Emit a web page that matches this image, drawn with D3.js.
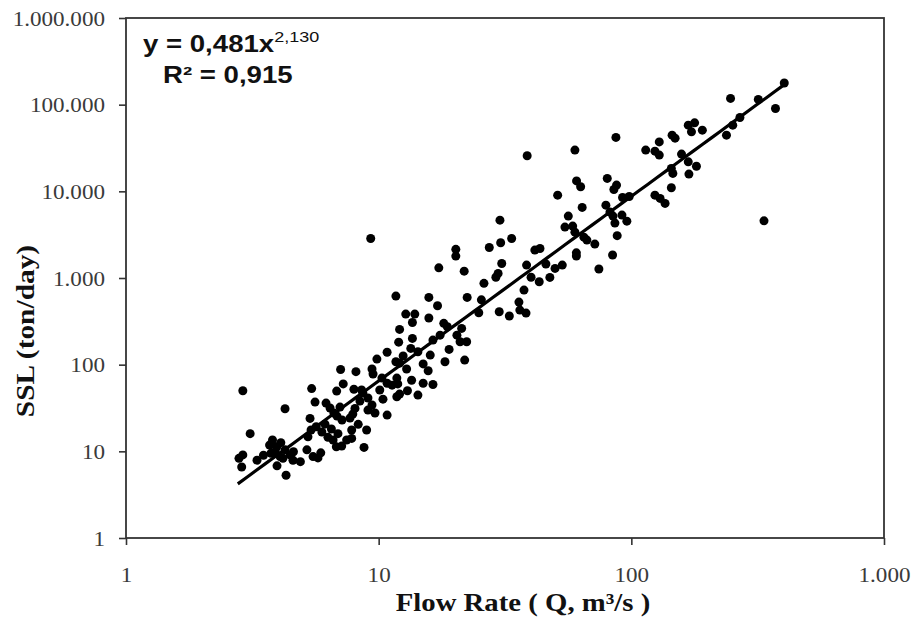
<!DOCTYPE html>
<html>
<head>
<meta charset="utf-8">
<script src="https://cdn.jsdelivr.net/npm/d3@7"></script>
<style>
  html, body { margin: 0; padding: 0; background: #fff; }
  svg { display: block; }
  .tick text { font-family: "Liberation Serif", "Times New Roman", serif; font-size: 21px; fill: #3a3a3a; }
  .tick line { stroke: #333; stroke-width: 1.6px; }
  .domain { display: none; }
</style>
</head>
<body>
<svg id="chart" width="911" height="621"></svg>
<script>
// ---- data
const xTicks = [1, 10, 100, 1000];
const xTickLabels = ['1', '10', '100', '1.000'];
const yTicks = [1, 10, 100, 1000, 10000, 100000, 1000000];
const yTickLabels = ['1', '10', '100', '1.000', '10.000', '100.000', '1.000.000'];

// power fit y = a * x^b
const fitA = 0.481;
const fitB = 2.130;
const fitRange = [2.77, 403];

// [Q (m3/s), SSL (ton/day)]
const samples = [
  [2.9,50],[3.1,16],[2.9,9.1],[2.8,8.3],[2.87,6.6],[3.3,7.9],[3.7,11.8],[3.8,13.5],[3.75,9.5],
  [3.95,11.3],[3.9,9.9],[4.07,8.7],[3.96,6.8],[4.26,31],[4.26,10.4],[4.46,9.1],[4.6,9.9],[4.18,8.3],
  [4.58,7.9],[4.9,7.6],[4.3,5.3],[5.2,10.4],[5.5,8.7],[5.75,8.4],[5.25,14.7],[5.4,17.6],[5.66,19.2],
  [5.35,24],[5.6,37],[5.43,53],[6.13,20.6],[6.5,18.1],[5.96,16.7],[6.6,13.5],[6.8,11.3],[7.14,11.5],
  [7.47,13.5],[7.82,14.1],[7.82,17.6],[6.84,25.5],[7.16,23],[7.7,24.2],[7.9,26.9],[7.03,32.4],[6.19,36],
  [6.42,31.6],[6.65,27.7],[6.82,49.6],[7.24,60],[7.07,88],[8.13,83],[7.98,52],[8.56,51],[8.66,47],
  [8.43,38],[9.07,41.2],[9.41,34.2],[9.07,29.9],[8.06,31.3],[9.67,27.7],[10.8,26.2],[10.4,40],[10.1,51],
  [9.41,89],[9.5,78],[9.84,116],[10.8,139],[11.7,108],[10.8,61],[11.3,58],[11.8,70],[11.9,60],
  [11.8,42.6],[12.1,45.8],[12,182],[12.1,255],[8.96,17.6],[8.75,11.1],
  [9.3,2860],[12.1,104],[12.5,126],[12.9,89],[13.4,154],[14.3,141],[16.4,192],[17.5,219],[16,129],
  [15,102],[15.7,85],[13.5,66],[15,61],[16.4,59],[14.3,44.6],[18.3,108],[21.9,113],[11.7,618],
  [13.6,201],[12.8,383],[13.9,383],[13.6,307],[15.8,345],[15.8,597],[17.1,478],[17.3,1310],[20.2,2140],
  [20.2,1790],[21.8,1200],[22.4,597],[18.1,300],[18.7,274],[21.3,262],[20.4,219],[21,184],[22.3,184],
  [24.9,397],[30,408],[32.9,364],[26.1,867],[29.1,1020],[29.7,1130],[30.7,1470],[30.4,2550],[33.6,2860],
  [27.4,2250],[30.2,4650],[35.9,527],[36.2,426],[38.3,394],[37.6,725],[38.5,1410],[40.1,1020],[43.2,904],
  [41.5,2100],[43.5,2190],[45.9,1450],[47.6,1016],[49.9,1290],[53.3,1410],[51.1,9040],[38.7,25700],
  [59.8,29900],[60.7,13200],[63,11300],[63.9,6520],[56.3,5180],[54.6,3870],[58.6,3970],[59.8,3380],
  [64.9,2960],[66.7,2740],[71.7,2460],[60.6,1950],[60.6,1790],[74.4,1270],[84.3,1840],[87.9,3080],
  [79.3,6930],[82.3,5760],[84.6,5180],[86.1,4300],[91.8,5320],[96,4530],[92.3,8500],[98.1,8730],
  [80.3,14100],[87.4,11800],[85.3,10500],[86.9,41900],[114,29900],[124,29100],[129,26200],[129,37200],
  [145,44500],[149,41100],[158,26900],[144,18400],[146,16100],[144,11000],[124,9040],[130,8280],
  [136,7250],[168,21900],[181,19500],[169,15800],[168,58000],[178,61700],[173,48600],[191,50800],
  [238,44500],[252,58000],[269,71200],[247,118000],[318,115000],[372,90400],[403,178000],[335,4570],
  [6.3,14.5],[6.9,16],[4.1,12.6],[3.5,9],[5.9,9.6],[8.3,20.5],[10.3,70],[13,50],[19,150],[25.5,560]
];

// ---- layout
const plot = { left: 126, right: 884, top: 18, bottom: 538 };
const svg = d3.select('#chart');

const x = d3.scaleLog().domain([1, 1000]).range([plot.left, plot.right]);
const y = d3.scaleLog().domain([1, 1e6]).range([plot.bottom, plot.top]);

// frame
svg.append('rect')
  .attr('x', plot.left).attr('y', plot.top)
  .attr('width', plot.right - plot.left).attr('height', plot.bottom - plot.top)
  .attr('fill', 'none').attr('stroke', '#333').attr('stroke-width', 1.8);

// axes
const gx = svg.append('g')
  .attr('transform', `translate(0,${plot.bottom})`)
  .call(d3.axisBottom(x).tickValues(xTicks)
    .tickFormat((d, i) => xTickLabels[i]).tickSize(7).tickSizeOuter(0));
gx.selectAll('.tick text').attr('y', 0).attr('dy', null)
  .attr('transform', 'translate(0,44) scale(1.1,1)');

const gy = svg.append('g')
  .attr('transform', `translate(${plot.left},0)`)
  .call(d3.axisLeft(y).tickValues(yTicks)
    .tickFormat((d, i) => yTickLabels[i]).tickSize(7).tickSizeOuter(0));
gy.selectAll('.tick text').attr('x', 0).attr('dy', null)
  .attr('transform', 'translate(-21,7) scale(1.1,1)');

// fit line
const fitPts = d3.range(0, 61).map(i => {
  const q = fitRange[0] * Math.pow(fitRange[1] / fitRange[0], i / 60);
  return [q, fitA * Math.pow(q, fitB)];
});
svg.append('path')
  .datum(fitPts)
  .attr('d', d3.line().x(d => x(d[0])).y(d => y(d[1])))
  .attr('fill', 'none').attr('stroke', '#000').attr('stroke-width', 3.2);

// points
svg.append('g').selectAll('circle')
  .data(samples)
  .join('circle')
  .attr('cx', d => x(d[0]))
  .attr('cy', d => y(d[1]))
  .attr('r', 4.5)
  .attr('fill', '#000');

// equation
const eq = svg.append('text')
  .attr('transform', 'translate(143,52) scale(1.2,1)')
  .attr('font-family', '"Liberation Sans", Arial, sans-serif')
  .attr('fill', '#111');
eq.append('tspan').attr('font-size', 23).attr('font-weight', 'bold')
  .text(`y = ${String(fitA).replace('.', ',')}x`);
eq.append('tspan').attr('font-size', 15).attr('dy', -10)
  .text(fitB.toFixed(3).replace('.', ','));

svg.append('text')
  .attr('transform', 'translate(163,83) scale(1.2,1)')
  .attr('font-family', '"Liberation Sans", Arial, sans-serif')
  .attr('font-size', 23).attr('font-weight', 'bold').attr('fill', '#111')
  .text('R² = 0,915');

// axis titles
svg.append('text')
  .attr('transform', 'translate(523,611) scale(1.15,1)')
  .attr('text-anchor', 'middle')
  .attr('font-family', '"Liberation Serif", "Times New Roman", serif')
  .attr('font-size', 25).attr('font-weight', 'bold').attr('fill', '#111')
  .text('Flow Rate ( Q, m³/s )');

svg.append('text')
  .attr('transform', 'translate(34,331) rotate(-90) scale(1.2,1)')
  .attr('text-anchor', 'middle')
  .attr('font-family', '"Liberation Serif", "Times New Roman", serif')
  .attr('font-size', 24.5).attr('font-weight', 'bold').attr('fill', '#111')
  .text('SSL (ton/day)');
</script>
</body>
</html>
